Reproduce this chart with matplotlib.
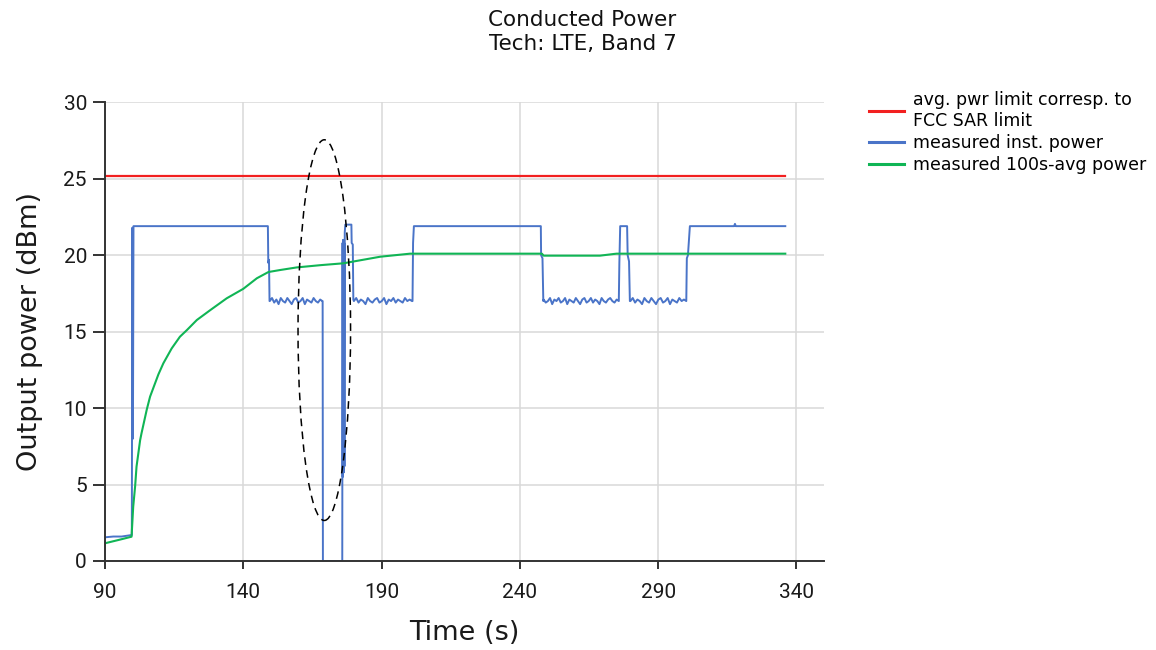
import numpy as np
import matplotlib
matplotlib.use("Agg")
import matplotlib.pyplot as plt
from matplotlib.patches import Ellipse

# 100 s limit line (avg. power corresponding to FCC SAR limit)
limit_t = [90, 336]
limit_p = [25.2, 25.2]

# measured 100s-avg power
avg_t = [90, 95, 99.6, 100.2, 100.9, 101.4, 102.7, 103.2, 105.1, 106.3, 109.3, 111.1,
         114.1, 117.1, 119.6, 123.2, 128, 134, 140, 144.9, 149.1,
         153.3, 159.3, 168, 176.2, 189.5, 200.3, 248, 248.6, 269, 274, 275, 300, 336]
avg_p = [1.16, 1.38, 1.59, 3.55, 4.9, 6.17, 7.9, 8.35, 9.9, 10.75, 12.2, 12.93,
         13.9, 14.67, 15.1, 15.76, 16.4, 17.18, 17.8, 18.49, 18.9,
         19.03, 19.2, 19.35, 19.47, 19.9, 20.1, 20.1, 19.97, 19.97, 20.08, 20.1, 20.1, 20.1]

# measured inst. power, piece by piece
start_t = [90, 93, 96, 99.7, 99.9, 100.1, 100.3, 100.6, 148.9, 149.05, 149.3, 149.5]
start_p = [1.55, 1.6, 1.6, 1.7, 21.8, 8.0, 21.9, 21.9, 21.9, 19.5, 19.7, 17.0]

noise1 = [17.0, 17.2, 16.9, 17.1, 16.8, 17.2, 17.0, 16.9, 17.2, 17.0, 16.8, 17.1,
          17.2, 16.9, 17.0, 17.2, 16.8, 17.1, 17.0, 16.9, 17.2, 17.0, 16.9, 17.1, 17.0]
noise1_span = (149.6, 168.6)

burst_t = [168.7, 168.8, 175.8, 175.9, 176.0, 176.1, 176.2, 176.3, 176.4, 176.5,
           176.6, 176.7, 176.9, 179.1, 179.2, 179.6, 179.8]
burst_p = [17.0, 0.0, 0.0, 20.8, 5.5, 21.0, 6.0, 21.0, 5.8, 20.8,
           6.2, 21.5, 22.0, 22.0, 20.8, 20.7, 17.1]

noise2 = [17.0, 17.2, 16.9, 17.1, 17.0, 16.8, 17.2, 17.0, 16.9, 17.1, 17.2, 16.9,
          17.0, 17.2, 16.8, 17.1, 17.0, 17.2, 16.9, 17.1, 17.0, 16.9, 17.2, 17.0, 17.1, 17.0]
noise2_span = (180.0, 201.0)

mid_t = [201.2, 201.4, 201.7, 247.6, 247.7, 248.2, 248.5]
mid_p = [17.0, 20.8, 21.9, 21.9, 20.0, 19.8, 17.0]

noise3 = [17.1, 16.9, 17.0, 17.2, 16.8, 17.1, 17.0, 17.2, 16.9, 17.0, 17.2, 16.8,
          17.1, 17.0, 16.9, 17.2, 17.0, 16.8, 17.1, 17.2, 16.9, 17.0, 17.2, 16.9,
          17.1, 17.0, 16.8, 17.2, 17.0, 16.9, 17.1, 17.2, 17.0, 16.9, 17.1, 17.0]
noise3_span = (248.6, 275.8)

peak_t = [276.0, 276.3, 278.8, 279.0, 279.5, 279.8]
peak_p = [19.5, 21.9, 21.9, 20.0, 19.6, 17.0]

noise4 = [17.0, 17.2, 16.9, 17.1, 17.0, 16.8, 17.2, 17.0, 16.9, 17.2, 17.0, 16.8,
          17.1, 17.2, 16.9, 17.0, 17.2, 16.8, 17.1, 17.0, 16.9, 17.2, 17.0, 17.1, 17.0]
noise4_span = (280.0, 300.2)

end_t = [300.4, 300.8, 301.5, 317.5, 317.8, 318.1, 336]
end_p = [19.8, 20.0, 21.9, 21.9, 22.05, 21.9, 21.9]

x_ticks = [90, 140, 190, 240, 290, 340]
y_ticks = [0, 5, 10, 15, 20, 25, 30]


def noisy(values, span):
    return list(np.linspace(span[0], span[1], len(values))), values


inst_t, inst_p = [], []
for seg_t, seg_p in [(start_t, start_p), noisy(noise1, noise1_span), (burst_t, burst_p),
                     noisy(noise2, noise2_span), (mid_t, mid_p), noisy(noise3, noise3_span),
                     (peak_t, peak_p), noisy(noise4, noise4_span), (end_t, end_p)]:
    inst_t += list(seg_t)
    inst_p += list(seg_p)

plt.rcParams['font.family'] = ['DejaVu Sans']

fig = plt.figure(figsize=(11.56, 6.5), dpi=100)
ax = fig.add_axes([105 / 1156, 1 - 561 / 650, (824 - 105) / 1156, (561 - 102.3) / 650])

l1, = ax.plot(limit_t, limit_p, color="#f22020", lw=1.6,
              label="avg. pwr limit corresp. to\nFCC SAR limit")
l2, = ax.plot(inst_t, inst_p, color="#4a74c8", lw=1.4, label="measured inst. power")
l3, = ax.plot(avg_t, avg_p, color="#10b555", lw=1.5, label="measured 100s-avg power")

ax.add_patch(Ellipse((169.3, 15.1), 19.0, 24.9, fill=False, ec="black",
                     lw=1.1, ls=(0, (5, 3.5)), zorder=3))

ax.set_xlim(90, 350)
ax.set_ylim(0, 30)
ax.set_xticks(x_ticks)
ax.set_yticks(y_ticks)
ax.grid(True, color="#d9d9d9", lw=1.1)
ax.set_axisbelow(True)
for side in ["top", "right"]:
    ax.spines[side].set_visible(False)
for side in ["left", "bottom"]:
    ax.spines[side].set_color("#333333")
    ax.spines[side].set_linewidth(1.4)
ax.tick_params(axis="x", length=6, width=1.4, color="#333333", pad=10)
ax.tick_params(axis="y", length=9, width=1.4, color="#333333", pad=4)
for lab in ax.get_xticklabels() + ax.get_yticklabels():
    lab.set_fontfamily("Roboto")
    lab.set_fontsize(15)
    lab.set_color("#1a1a1a")

ax.set_xlabel("Time (s)", fontsize=19.5, color="#1a1a1a", labelpad=13)
ax.set_ylabel("Output power (dBm)", fontsize=19.5, color="#1a1a1a", labelpad=15)

fig.text(0.504, 1 - 10 / 650, "Conducted Power\nTech: LTE, Band 7", ha="center", va="top",
         fontsize=15.5, color="#111111", linespacing=1.25)

fig.legend(handles=[l1, l2, l3], loc="upper left", bbox_to_anchor=(869 / 1156, 1 - 91 / 650),
           frameon=False, fontsize=12.5, handlelength=2.0, handletextpad=0.55,
           labelspacing=0.25, borderpad=0, borderaxespad=0)
for h in fig.legends[0].legend_handles:
    h.set_linewidth(2.2)

fig.savefig("out.png", dpi=100)
